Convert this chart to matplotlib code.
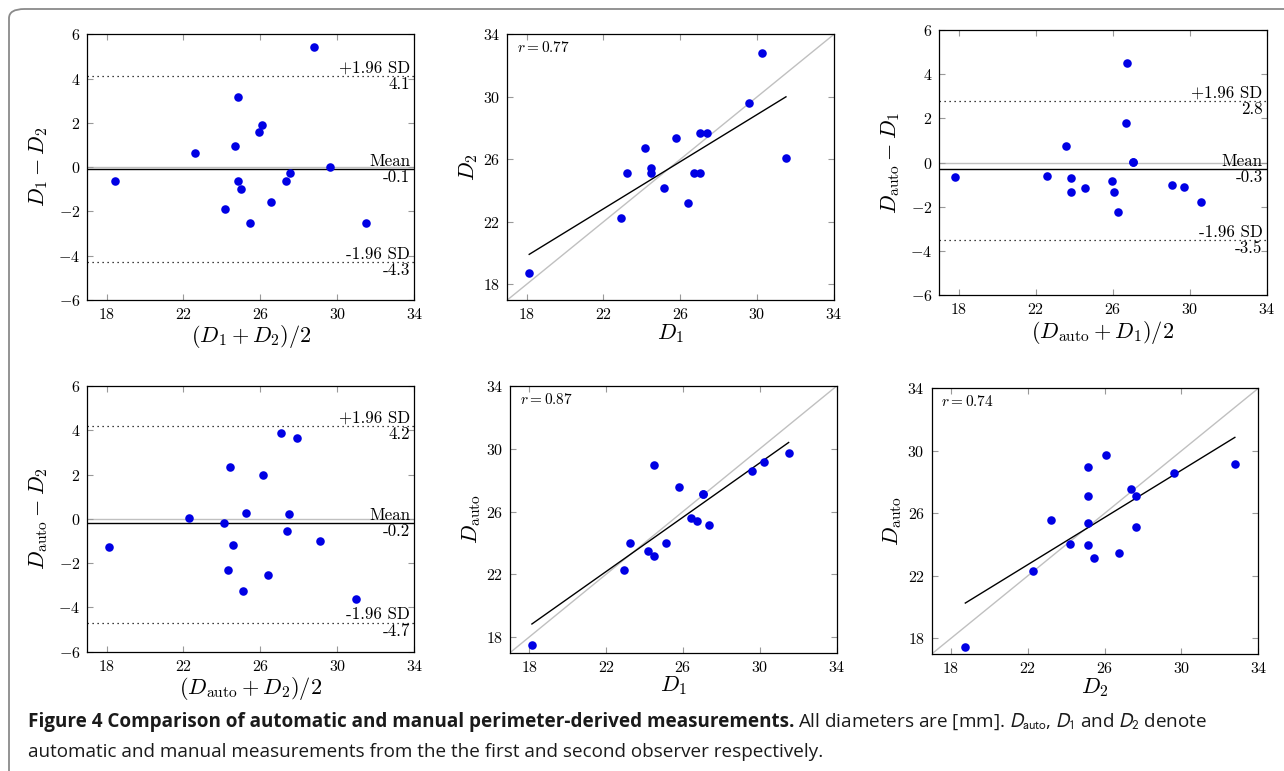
import numpy as np
import matplotlib
matplotlib.use("Agg")
import matplotlib.pyplot as plt
from matplotlib.patches import FancyBboxPatch
from matplotlib.ticker import FuncFormatter

plt.rcParams['mathtext.fontset'] = 'cm'
plt.rcParams['axes.unicode_minus'] = True

# diameters [mm]
d1 = [18.14, 22.91, 23.23, 24.19, 24.50, 24.50, 25.14, 25.78,
      26.41, 26.72, 27.05, 27.05, 27.38, 29.60, 30.24, 31.50]
d2 = [18.75, 22.27, 25.13, 26.73, 25.47, 25.13, 24.19, 27.37,
      23.23, 25.13, 25.13, 27.66, 27.66, 29.61, 32.78, 26.09]
dauto = [17.47, 22.30, 23.97, 23.48, 23.16, 28.99, 24.01, 27.57,
         25.56, 25.41, 27.10, 27.10, 25.14, 28.59, 29.14, 29.72]

# Bland-Altman lines: mean, +1.96 SD, -1.96 SD
ba_d1_d2 = [-0.1, 4.1, -4.3]
ba_auto_d1 = [-0.3, 2.8, -3.5]
ba_auto_d2 = [-0.2, 4.2, -4.7]

# regression lines (end points) and r values
fit_d1_d2 = ([18.14, 31.50], [19.92, 30.00])
fit_d1_auto = ([18.14, 31.50], [18.83, 30.40])
fit_d2_auto = ([18.75, 32.78], [20.26, 30.86])
r_vals = ["0.77", "0.87", "0.74"]

ticks_x = [18, 22, 26, 30, 34]
ticks_ba = [-6, -4, -2, 0, 2, 4, 6]

W, H = 1284, 771
fig = plt.figure(figsize=(W / 100, H / 100), dpi=100)

# outer frame of the figure box (runs off right and bottom edge)
frame = FancyBboxPatch((9 / W, -0.1), 1.2, 1 - 9 / H + 0.1,
                       boxstyle="round,pad=0,rounding_size=0.012",
                       transform=fig.transFigure, fill=False,
                       edgecolor='#8a8a8a', linewidth=1.3)
fig.patches.append(frame)


def add_ax(left, top, right, bottom):
    return fig.add_axes([left / W, 1 - bottom / H, (right - left) / W, (bottom - top) / H])


fmt = FuncFormatter(lambda v, p: r'$%g$' % v)
BLUE = '#0000e4'


def style(ax, yticks, ylim):
    ax.set_xlim(17, 34)
    ax.set_ylim(*ylim)
    ax.set_xticks(ticks_x)
    ax.set_yticks(yticks)
    ax.xaxis.set_major_formatter(fmt)
    ax.yaxis.set_major_formatter(fmt)
    ax.tick_params(direction='in', length=4.5, width=0.8, color='#999999',
                   top=True, right=True, labelsize=11.5, pad=5)
    for s in ax.spines.values():
        s.set_linewidth(0.9)


def bland_altman(ax, a, b, stats, xlabel, ylabel):
    a = np.asarray(a)
    b = np.asarray(b)
    ax.axhline(0, color='#c0c0c0', lw=1.0, zorder=1)
    ax.axhline(stats[0], color='black', lw=1.0, zorder=2)
    ax.axhline(stats[1], color='black', lw=0.9, ls=(0, (1, 3)), zorder=2)
    ax.axhline(stats[2], color='black', lw=0.9, ls=(0, (1, 3)), zorder=2)
    ax.scatter((a + b) / 2, a - b, s=38, color=BLUE, zorder=3, linewidths=0)
    tr = ax.get_yaxis_transform()
    tops = ['Mean', '+1.96 SD', '-1.96 SD']
    for val, top in zip(stats, tops):
        ax.annotate(top, xy=(1, val), xycoords=tr, xytext=(-3, 0.3),
                    textcoords='offset points', ha='right', va='bottom',
                    family='cmr10', fontsize=12.2)
        ax.annotate('%.1f' % val, xy=(1, val), xycoords=tr, xytext=(-3, -0.5),
                    textcoords='offset points', ha='right', va='top',
                    family='cmr10', fontsize=12.2)
    style(ax, ticks_ba, (-6, 6))
    ax.set_xlabel(xlabel, fontsize=16, labelpad=1)
    ax.set_ylabel(ylabel, fontsize=16, labelpad=6)


def scatter_fit(ax, x, y, fit, r, xlabel, ylabel):
    ax.plot([17, 34], [17, 34], color='#c0c0c0', lw=1.0, zorder=1)
    ax.plot(fit[0], fit[1], color='black', lw=1.0, zorder=2)
    ax.scatter(x, y, s=38, color=BLUE, zorder=3, linewidths=0)
    ax.text(0.03, 0.95, r'$r{=}%s$' % r, transform=ax.transAxes,
            ha='left', va='center', fontsize=11)
    style(ax, ticks_x, (17, 34))
    ax.set_xlabel(xlabel, fontsize=16, labelpad=0)
    ax.set_ylabel(ylabel, fontsize=16, labelpad=2)


ax1 = add_ax(87.3, 34.3, 414.3, 300)
ax2 = add_ax(507.3, 34.3, 834, 300)
ax3 = add_ax(939.3, 30, 1266.7, 295.3)
ax4 = add_ax(87.3, 386, 414.3, 651.7)
ax5 = add_ax(510, 386, 836.7, 652.7)
ax6 = add_ax(931.7, 388.3, 1258.3, 654)

bland_altman(ax1, d1, d2, ba_d1_d2, r'$(D_1 + D_2)/2$', r'$D_1 - D_2$')
scatter_fit(ax2, d1, d2, fit_d1_d2, r_vals[0], r'$D_1$', r'$D_2$')
bland_altman(ax3, dauto, d1, ba_auto_d1, r'$(D_{\rm auto} + D_1)/2$', r'$D_{\rm auto} - D_1$')
bland_altman(ax4, dauto, d2, ba_auto_d2, r'$(D_{\rm auto} + D_2)/2$', r'$D_{\rm auto} - D_2$')
scatter_fit(ax5, d1, dauto, fit_d1_auto, r_vals[1], r'$D_1$', r'$D_{\rm auto}$')
scatter_fit(ax6, d2, dauto, fit_d2_auto, r_vals[2], r'$D_2$', r'$D_{\rm auto}$')

# caption
cap_font = ['Liberation Sans Narrow', 'Open Sans', 'DejaVu Sans']
renderer = fig.canvas.get_renderer()
y1 = 1 - 727 / H
y2 = 1 - 757 / H
t1 = fig.text(28 / W, y1, 'Figure 4 Comparison of automatic and manual perimeter-derived measurements.',
              fontsize=13.6, fontweight='bold', family=cap_font, color='#1a1a1a', va='baseline')
bb = t1.get_window_extent(renderer)
fig.text(bb.x1 / W + 4 / W, y1,
         r'All diameters are [mm]. $D_{\mathrm{auto}}$, $D_1$ and $D_2$ denote',
         fontsize=13.6, family=cap_font, color='#1a1a1a', va='baseline', math_fontfamily='stixsans')
fig.text(28 / W, y2, 'automatic and manual measurements from the the first and second observer respectively.',
         fontsize=13.6, family=cap_font, color='#1a1a1a', va='baseline')

fig.savefig('out.png', dpi=100)
